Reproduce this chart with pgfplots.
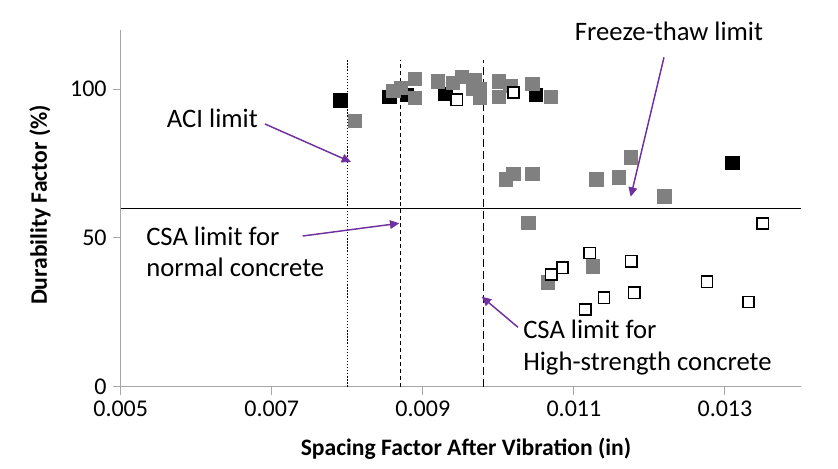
\documentclass[border=0pt]{standalone}
\usepackage{pgfplots}
\pgfplotsset{compat=1.18}
\usepackage{fontspec}
\setmainfont{Carlito}
\usetikzlibrary{arrows.meta}
\definecolor{axgray}{RGB}{166,166,166}
\definecolor{mgray}{RGB}{128,128,128}
\definecolor{arrpurple}{RGB}{112,48,160}
\begin{document}
\begin{tikzpicture}
\useasboundingbox (-90.525pt,-60.975pt) rectangle (537.975pt,290.025pt);
\begin{axis}[
  at={(0,0)}, anchor=south west,
  scale only axis, width=509.85pt, height=267.7pt,
  xmin=0.005, xmax=0.014, ymin=0, ymax=120,
  axis x line*=bottom, axis y line*=left,
  axis line style={axgray, line width=0.75pt, -},
  xtick={0.005,0.007,0.009,0.011,0.013},
  xticklabels={0.005,0.007,0.009,0.011,0.013},
  ytick={0,50,100},
  scaled ticks=false,
  tick align=outside, major tick length=6pt,
  tick style={axgray, line width=0.75pt},
  /pgf/number format/assume math mode=true,
  tick label style={font=\fontsize{18}{21}\selectfont},
  xticklabel style={yshift=-1.5pt},
  yticklabel style={xshift=-1pt},
  clip=false,
]
\addplot[black, line width=1pt, dash pattern=on 1pt off 1.3pt] coordinates {(0.008,0) (0.008,110)};
\addplot[black, line width=1pt, dash pattern=on 3pt off 2.2pt] coordinates {(0.0087,0) (0.0087,110)};
\addplot[black, line width=1pt, dash pattern=on 6pt off 3pt] coordinates {(0.0098,0) (0.0098,110)};
\addplot[black, line width=1.1pt] coordinates {(0.005,60) (0.014,60)};
% black filled
\addplot[only marks, mark=square*, mark size=5pt, mark options={fill=black, draw=black, line width=0pt}] coordinates {
(0.00791,96.2) (0.00856,97.3) (0.00879,98.0) (0.00930,98.4) (0.0105,98.0) (0.0131,75.1)};
% gray filled
\addplot[only marks, mark=square*, mark size=5pt, mark options={fill=mgray, draw=mgray, line width=0pt}] coordinates {
(0.00810,89.3) (0.00861,99.5) (0.00871,100.5) (0.00890,103.4) (0.00890,97.0)
(0.00920,102.6) (0.00940,102.2) (0.00952,104.2) (0.00969,103.1) (0.00966,100.3)
(0.00976,97.0) (0.00976,100.0) (0.01001,102.6) (0.01001,97.5) (0.01016,101.1)
(0.01045,101.7) (0.0107,97.5) (0.0101,69.7) (0.0102,71.5) (0.01045,71.4)
(0.0113,69.7) (0.0116,70.3) (0.01176,77.1) (0.0122,63.9) (0.0104,55.1)
(0.01125,40.4) (0.01066,35.0)};
% white
\addplot[only marks, mark=square*, mark size=4.2pt, mark options={fill=white, draw=black, line width=1.1pt}] coordinates {
(0.00945,96.5) (0.0102,98.9) (0.01121,45.0) (0.01085,40.0) (0.0107,37.7)
(0.01176,42.2) (0.0118,31.6) (0.0114,29.9) (0.01115,26.0) (0.01276,35.3)
(0.01331,28.5) (0.0135,54.9)};
\end{axis}
\begin{scope}[x=0.75pt, y=-0.75pt, shift={(-90.525pt,290.025pt)}]
\node[anchor=center, font=\bfseries\fontsize{17.7}{21}\selectfont] at (466,449) {Spacing Factor After Vibration (in)};
\node[anchor=center, rotate=90, font=\bfseries\fontsize{17.7}{21}\selectfont] at (40,205) {Durability Factor (\%)};
\begin{scope}[font=\fontsize{20}{24}\selectfont, inner sep=0pt]
\node[anchor=base west] at (166.7,128) {ACI limit};
\node[anchor=base east] at (763.3,40.7) {Freeze-thaw limit};
\node[anchor=base west] at (146,245) {CSA limit for};
\node[anchor=base west] at (146,276.7) {normal concrete};
\node[anchor=base west] at (523,338) {CSA limit for};
\node[anchor=base west] at (523,370) {High-strength concrete};
\end{scope}
\begin{scope}[arrpurple, line width=1.1pt, -{Triangle[length=7pt,width=6.5pt]}]
\draw (265,124) -- (351,162);
\draw (302.7,236) -- (399.3,223.3);
\draw (664,57.3) -- (630.7,196.7);
\draw (518,327.3) -- (481.7,296.7);
\end{scope}
\end{scope}
\end{tikzpicture}
\end{document}
